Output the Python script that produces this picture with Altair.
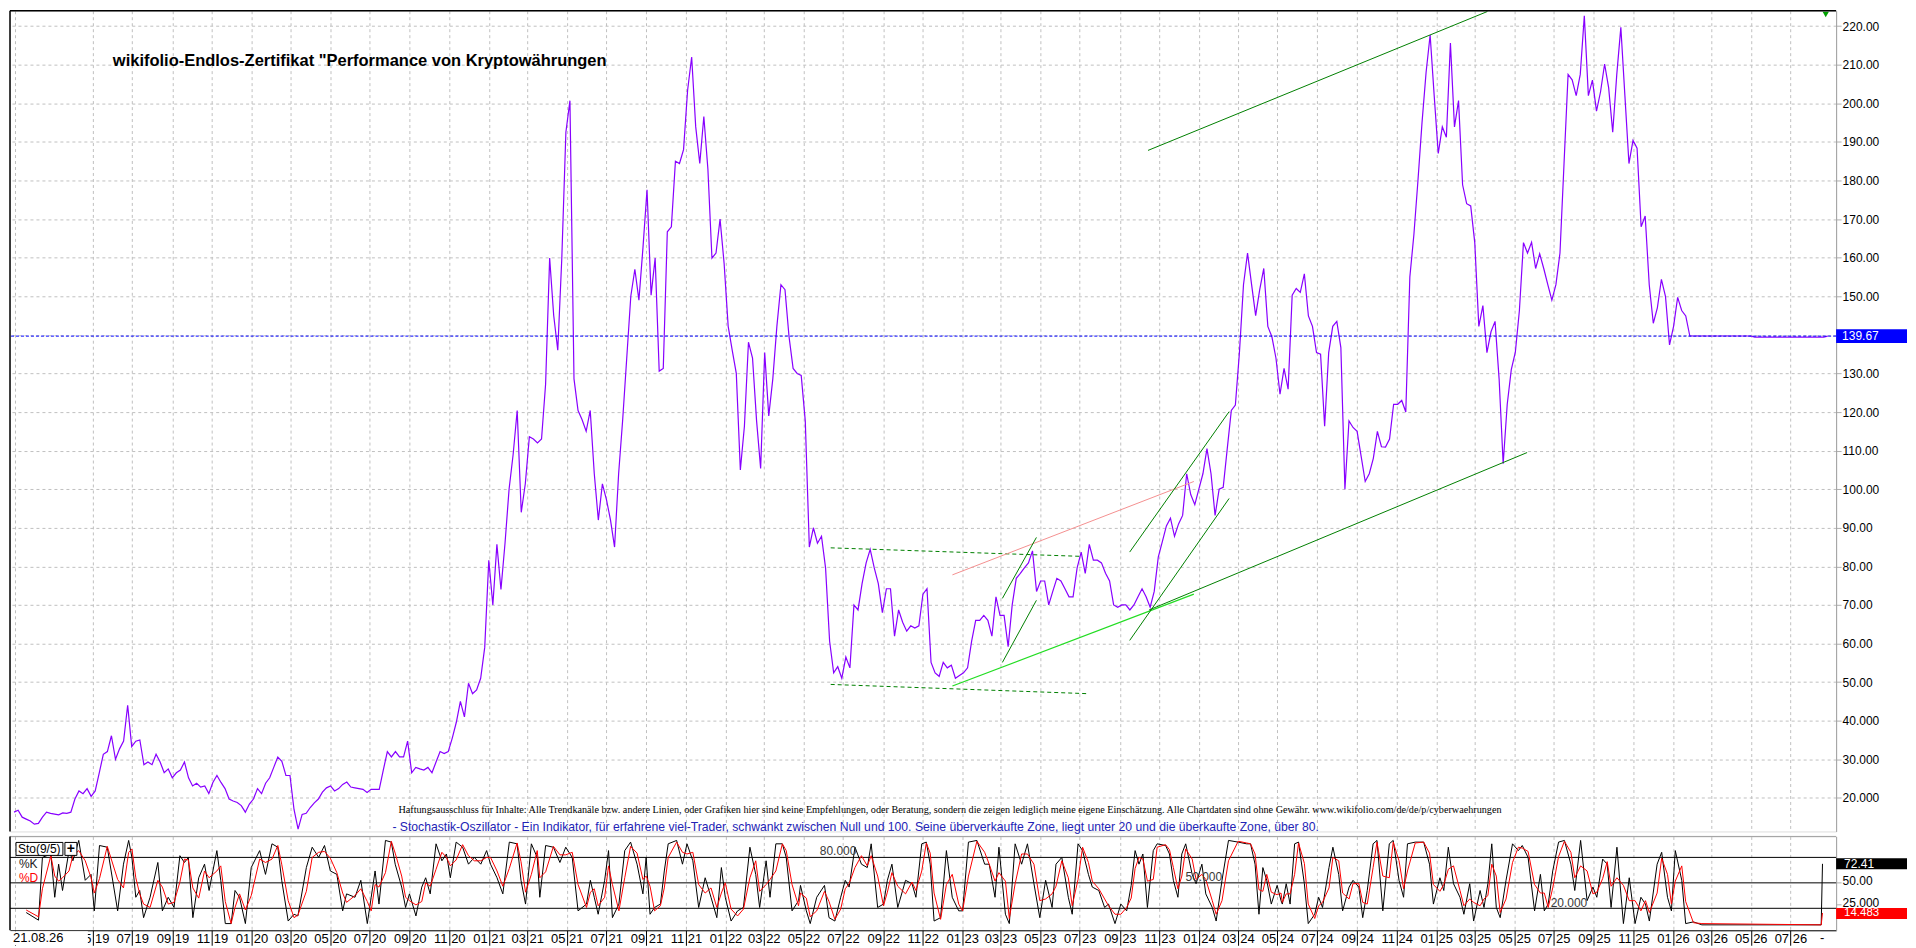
import altair as alt
import numpy as np
import pandas as pd

# ------------------------------------------------------------------ data
AXIS_START = "2018-12-24T12:00:00"   # left edge of the time axis
AXIS_END = "2026-09-09T12:00:00"     # right edge of the time axis
PRICE_FIRST_DAY = 6.257               # first close, days after AXIS_START
PRICE_STEP_DAYS = 6.257               # spacing of the sampled closes

PRICE_SEG_A = [
    16.3, 16.8, 15.0, 14.5, 14.0, 13.2, 13.4, 15.0, 16.3, 16.0,
    15.8, 15.6, 16.1, 16.0, 16.3, 19.7, 21.8, 21.1, 22.4, 20.4,
    21.8, 26.5, 31.3, 32.0, 36.1, 30.0, 32.7, 34.7, 44.0, 33.3,
    34.7, 35.0, 28.6, 29.3, 28.6, 31.3, 29.3, 26.5, 27.5, 25.2,
    26.5, 27.2, 29.3, 25.2, 23.1, 23.8, 22.8, 23.1, 21.1, 24.0,
    25.8, 24.0, 22.4, 19.7, 19.2, 18.8, 18.0, 16.3, 18.4, 19.7,
    22.4, 21.1, 23.8, 25.2, 27.9, 30.6, 29.5, 25.8, 25.8, 17.0,
    11.9, 15.7, 16.0, 17.5, 18.7, 19.7, 21.5, 22.6, 23.1, 21.8,
    22.4, 23.5, 24.1, 22.8, 22.6, 22.4, 22.2, 21.4, 22.2, 22.2,
    22.2, 27.2, 32.0, 30.6, 32.0, 30.6, 30.6, 34.7, 26.5, 27.9,
    27.5, 27.2, 27.9, 26.5, 29.3, 32.0, 31.5, 32.0, 35.5, 39.6,
    45.0, 41.0, 49.7, 47.0, 48.0, 51.0, 59.0, 81.6, 70.0, 85.7,
    74.0, 86.0, 100.0, 109.0, 120.4, 94.0, 101.4, 113.6, 113.0, 112.0,
    113.0, 127.2, 159.9, 145.0, 136.0, 160.0, 192.5, 200.7, 128.6, 120.4,
    118.0, 115.0, 120.4, 104.0, 92.0, 101.4, 97.3, 92.0, 85.0, 104.0,
    118.0, 134.0, 150.0, 157.0, 149.0, 162.6,
]
PRICE_SEG_B = [
    177.6, 150.3, 159.9, 130.6, 131.3, 166.7, 168.0, 185.0, 184.4, 188.0,
    203.4, 212.0, 193.9, 184.4, 196.6, 183.0, 159.9, 161.2, 170.0, 158.5,
    142.2, 136.0, 130.0, 105.0, 116.3, 138.1, 134.0, 117.7, 105.4, 135.4,
    119.0, 128.6, 142.2, 153.0, 151.7, 139.5, 131.3, 130.0, 129.5, 117.7,
    85.0, 90.0, 86.0, 87.8, 79.6, 60.6, 52.4, 54.0, 51.0, 56.5,
    53.7, 70.0, 68.7, 75.5, 80.9, 84.4, 79.6, 75.5, 68.0, 74.2,
    74.2, 61.9, 68.7, 65.5, 63.2, 64.6, 64.0, 64.6, 72.8, 74.2,
    55.1, 52.4, 51.5, 55.1, 53.7, 54.4, 51.0, 51.7, 52.4, 53.7,
    60.6, 66.0, 66.0, 67.3, 66.0, 61.9, 72.1, 67.3, 67.3, 59.2,
    70.0, 76.9, 78.2, 79.6, 80.9, 84.0, 73.5, 76.2, 76.2, 70.0,
    73.5, 76.9, 76.2, 74.2, 72.1, 72.1, 79.6, 83.7, 78.2, 85.7,
    81.6, 81.6, 80.9, 78.2, 76.2, 70.0, 69.4, 70.0, 70.0, 68.7,
    70.0, 72.1, 74.2, 72.1, 69.4, 73.5, 82.4, 86.4, 90.5, 92.5,
    87.8, 91.0, 93.2, 104.0, 98.6, 96.0, 100.0, 104.0, 110.5, 104.0,
    93.2, 100.0, 100.5, 110.5, 120.4, 121.8, 135.4, 153.0, 161.2, 153.0,
    145.0, 151.7, 157.2, 142.2, 139.5, 134.0, 124.6,
]
PRICE_SEG_C = [
    131.3, 125.9, 150.3, 152.0, 151.0, 155.8, 144.9, 142.2, 135.4, 135.0,
    116.3, 135.4, 142.2, 143.5, 136.7, 100.0, 117.7, 116.0, 115.0, 108.5,
    102.0, 104.0, 108.0, 115.0, 111.0, 110.9, 113.0, 122.0, 122.0, 123.0,
    120.0, 155.0, 166.0, 180.0, 195.0, 208.0, 217.7, 202.0, 187.0, 193.9,
    191.2, 215.6, 193.9, 200.7, 178.9, 174.0, 173.4, 163.9, 142.2, 147.6,
    135.4, 140.8, 143.5, 128.6, 106.6, 122.0, 131.0, 135.5, 146.3, 163.9,
    161.2, 164.0, 157.2, 161.0, 157.2, 153.0, 149.0, 153.0, 161.2, 184.4,
    207.5, 206.1, 202.0, 207.5, 222.7, 202.0, 206.0, 198.0, 203.0, 210.2,
    204.0, 192.5, 207.5, 219.7, 202.0, 184.4, 190.4, 188.4, 168.0, 170.8,
    153.0, 143.0, 147.0, 154.4, 150.0, 137.4, 142.2, 149.7, 146.3, 144.9,
    139.7,
]
PRICE_TAIL = [
    139.7, 139.7, 139.7, 139.7, 139.7, 139.7, 139.7, 139.7, 139.7, 139.7,
    139.7, 139.7, 139.7, 139.7, 139.7,
    139.4, 139.4, 139.4, 139.4, 139.4, 139.4, 139.4, 139.4, 139.4, 139.4,
    139.4, 139.4, 139.4, 139.4, 139.4, 139.4, 139.4, 139.4,
    139.67,
]
LAST_PRICE = 139.67
PRICE_TICKS = [20, 30, 40, 50, 60, 70, 80, 90, 100, 110, 120, 130, 140,
               150, 160, 170, 180, 190, 200, 210, 220]

# Stochastic (9/5): (day after AXIS_START, %K, %D)
STO_SEG_A = [
    (25, 15, 18), (44, 6, 10), (50, 80, 43), (63, 84, 82), (69, 33, 58), (75, 72, 52),
    (81, 41, 56), (91, 88, 64), (97, 76, 82), (106, 100, 88), (116, 53, 76), (125, 60, 56),
    (130, 17, 38), (138, 94, 55), (150, 92, 93), (166, 17, 54), (175, 72, 44), (183, 100, 86),
    (188, 80, 90), (194, 33, 56), (200, 41, 37), (206, 9, 25), (216, 33, 21), (228, 74, 53),
    (235, 17, 45), (244, 33, 25), (253, 21, 27), (262, 82, 51), (269, 74, 78), (275, 80, 77),
    (282, 9, 44), (291, 56, 32), (300, 72, 64), (307, 41, 56), (319, 88, 64), (325, 53, 70),
    (332, 2, 28), (341, 2, 2), (347, 41, 21), (354, 33, 37), (363, 2, 18), (372, 68, 35),
    (385, 88, 78), (394, 60, 74), (404, 96, 78), (413, 92, 94), (419, 53, 72), (429, 5, 29),
    (438, 13, 9), (444, 11, 12), (457, 68, 40), (466, 92, 80), (476, 80, 86), (485, 94, 87),
    (494, 64, 79), (504, 60, 62), (513, 17, 38), (519, 37, 27), (532, 33, 35), (541, 53, 43),
    (551, 2, 28), (557, 33, 17), (563, 64, 48), (569, 25, 45), (579, 100, 62), (588, 98, 99),
    (594, 72, 85), (604, 45, 58), (610, 21, 33), (616, 37, 29), (626, 11, 24), (635, 45, 28),
    (641, 56, 50), (648, 37, 46), (657, 96, 66), (666, 76, 86), (673, 84, 80), (679, 56, 70),
    (688, 98, 77), (698, 92, 95), (707, 72, 82), (716, 80, 76), (726, 72, 76), (735, 88, 80),
    (741, 72, 80), (751, 56, 64), (760, 37, 46), (770, 98, 67), (782, 96, 97), (788, 53, 75),
    (795, 25, 39), (804, 96, 60), (813, 80, 88), (817, 33, 56), (826, 94, 63), (838, 92, 93),
    (848, 74, 83), (857, 92, 83), (867, 80, 86), (876, 17, 48), (889, 25, 21), (895, 53, 39),
    (901, 33, 43), (907, 13, 23), (917, 53, 33), (923, 88, 70), (929, 9, 48), (939, 25, 17),
    (948, 88, 56), (957, 98, 93), (967, 72, 85), (976, 37, 54),
]
STO_SEG_B = [
    (981, 80, 58), (987, 13, 46), (994, 21, 17), (1003, 25, 23), (1009, 64, 44), (1015, 96, 80),
    (1028, 100, 98), (1037, 72, 86), (1044, 96, 84), (1053, 76, 86), (1062, 21, 48), (1072, 56, 38),
    (1081, 33, 44), (1090, 9, 21), (1097, 68, 38), (1103, 33, 50), (1112, 5, 19), (1122, 17, 11),
    (1131, 21, 19), (1141, 92, 56), (1150, 60, 76), (1156, 21, 40), (1166, 76, 48), (1172, 33, 54),
    (1181, 96, 64), (1191, 96, 96), (1197, 80, 88), (1206, 17, 48), (1216, 29, 23), (1219, 47, 38),
    (1228, 17, 32), (1234, 2, 10), (1244, 33, 17), (1256, 47, 40), (1263, 9, 28), (1272, 5, 7),
    (1281, 33, 19), (1288, 53, 43), (1294, 45, 49), (1303, 92, 68), (1313, 72, 82), (1322, 68, 70),
    (1328, 96, 82), (1338, 21, 58), (1347, 25, 23), (1353, 53, 39), (1360, 72, 62), (1369, 21, 46),
    (1381, 53, 37), (1391, 49, 51), (1397, 33, 41), (1406, 96, 64), (1413, 98, 97), (1419, 72, 85),
    (1425, 5, 38), (1435, 9, 7), (1444, 88, 48), (1453, 33, 60), (1463, 17, 25), (1469, 17, 17),
    (1478, 98, 58), (1491, 100, 99), (1503, 72, 86), (1510, 72, 72), (1519, 33, 52), (1525, 92, 62),
    (1535, 13, 52), (1541, 2, 8), (1550, 96, 49), (1560, 72, 84), (1569, 96, 84), (1579, 49, 72),
    (1588, 9, 29), (1597, 53, 31), (1607, 21, 37), (1613, 72, 46), (1622, 80, 76), (1632, 33, 56),
    (1638, 13, 23), (1647, 96, 54), (1654, 88, 92), (1663, 60, 74), (1669, 45, 52), (1679, 41, 43),
    (1688, 21, 31), (1694, 25, 23), (1704, 2, 13), (1713, 25, 13), (1722, 17, 21), (1729, 47, 32),
    (1735, 88, 67), (1741, 72, 80), (1747, 84, 78), (1754, 21, 52), (1763, 88, 54), (1769, 96, 92),
    (1782, 94, 95), (1788, 84, 89), (1794, 53, 68), (1801, 33, 43), (1807, 84, 58), (1813, 96, 90),
    (1823, 60, 78), (1829, 49, 54), (1838, 72, 60), (1844, 37, 54), (1854, 21, 29), (1860, 5, 13),
    (1869, 53, 29), (1879, 100, 76), (1894, 98, 99), (1907, 96, 97), (1913, 96, 96), (1920, 72, 84),
    (1926, 13, 42), (1932, 68, 40), (1938, 53, 60), (1945, 25, 39), (1954, 47, 36), (1960, 29, 38),
]
STO_SEG_C = [
    (1962, 25, 27), (1968, 49, 37), (1974, 25, 37), (1981, 96, 60), (1987, 98, 97), (1996, 49, 73),
    (2002, 2, 25), (2012, 13, 8), (2018, 33, 23), (2024, 21, 27), (2034, 68, 44), (2040, 92, 80),
    (2049, 60, 76), (2055, 17, 38), (2065, 45, 31), (2071, 53, 49), (2080, 45, 49), (2086, 9, 27),
    (2093, 41, 25), (2102, 96, 68), (2108, 100, 98), (2117, 17, 58), (2127, 96, 56), (2133, 100, 98),
    (2142, 53, 76), (2149, 33, 43), (2155, 96, 64), (2167, 98, 97), (2180, 98, 98), (2189, 72, 85),
    (2195, 25, 48), (2205, 56, 40), (2211, 41, 48), (2218, 92, 66), (2226, 49, 70), (2236, 33, 41),
    (2242, 13, 23), (2251, 49, 31), (2257, 5, 27), (2267, 41, 23), (2273, 21, 31), (2279, 49, 35),
    (2285, 96, 72), (2292, 21, 58), (2298, 9, 15), (2307, 53, 31), (2317, 96, 74), (2326, 88, 92),
    (2332, 94, 91), (2341, 80, 87), (2351, 17, 48), (2360, 60, 38), (2366, 17, 38), (2372, 25, 21),
    (2379, 64, 44), (2388, 98, 81), (2397, 100, 99), (2407, 72, 86), (2413, 41, 56), (2422, 100, 70),
    (2432, 29, 64), (2441, 45, 37), (2447, 33, 39), (2456, 78, 55), (2463, 72, 75), (2469, 21, 46),
    (2478, 92, 56), (2488, 2, 47), (2497, 56, 29), (2506, 2, 29), (2515, 33, 17), (2522, 25, 29),
    (2528, 5, 15), (2540, 72, 38), (2547, 86, 79), (2556, 33, 60), (2562, 17, 25), (2568, 88, 52),
    (2578, 53, 70), (2584, 2, 28), (2596, 4, 3), (2609, 0.5, 2), (2793, 0.5, 0.5), (2795, 72.41, 14.483),
]
STO_LEVELS = [20, 50, 80]
STO_LEVEL_TEXT = [("80.000", 1277, 88.0), ("50.000", 1841, 56.5), ("20.000", 2404, 26.0)]
STO_LAST_K = 72.41
STO_LAST_D = 14.483
STO_TICKS = [25, 50]

MONTH_TICKS = [
    "2019-01", "2019-05", "2019-07", "2019-09", "2019-11",
    "2020-01", "2020-03", "2020-05", "2020-07", "2020-09", "2020-11",
    "2021-01", "2021-03", "2021-05", "2021-07", "2021-09", "2021-11",
    "2022-01", "2022-03", "2022-05", "2022-07", "2022-09", "2022-11",
    "2023-01", "2023-03", "2023-05", "2023-07", "2023-09", "2023-11",
    "2024-01", "2024-03", "2024-05", "2024-07", "2024-09", "2024-11",
    "2025-01", "2025-03", "2025-05", "2025-07", "2025-09", "2025-11",
    "2026-01", "2026-03", "2026-05", "2026-07",
]
FIRST_LABELLED_MONTH = "2019-05"
DATE_STAMP = "21.08.26"

# trend lines: (day1, price1, day2, price2)
TREND_DASHED = [(1265.6, 84.8, 1650.4, 82.6), (1265.6, 49.4, 1662.9, 47.0)]
TREND_DARK = [
    (1530.3, 71.7, 1582.8, 87.5), (1530.3, 55.1, 1582.8, 71.2),
    (1726.6, 83.7, 1880.0, 120.1), (1726.6, 60.8, 1880.0, 97.6),
    (1756.6, 68.7, 2339.5, 109.5), (1754.9, 187.8, 2278.2, 223.8),
]
TREND_LIME = [(1453.3, 49.0, 1825.6, 72.8)]
TREND_PINK = [(1453.3, 77.8, 1825.6, 102.0)]
MARKER = [(2800.0, 223.0)]

TITLE = "wikifolio-Endlos-Zertifikat \"Performance von Kryptowährungen"
DISCLAIMER = ("Haftungsausschluss für Inhalte: Alle Trendkanäle bzw. andere Linien, oder Grafiken hier "
              "sind keine Empfehlungen, oder Beratung, sondern die zeigen lediglich meine eigene "
              "Einschätzung. Alle Chartdaten sind ohne Gewähr. www.wikifolio.com/de/de/p/cyberwaehrungen")
STO_NOTE = ("- Stochastik-Oszillator - Ein Indikator, für erfahrene viel-Trader, schwankt zwischen "
            "Null und 100. Seine überverkaufte Zone, liegt unter 20 und die überkaufte Zone, über 80.")

# ------------------------------------------------------------------ helpers
BASE_MS = pd.Timestamp(AXIS_START, tz="UTC").value // 10**6
END_MS = pd.Timestamp(AXIS_END, tz="UTC").value // 10**6
DAY_MS = 86400000.0


def to_ms(days):
    return BASE_MS + np.asarray(days, dtype=float) * DAY_MS


month_ms = [int(pd.Timestamp(m + "-01", tz="UTC").value // 10**6) for m in MONTH_TICKS]
first_label_ms = int(pd.Timestamp(FIRST_LABELLED_MONTH + "-01", tz="UTC").value // 10**6) - 1

prices = PRICE_SEG_A + PRICE_SEG_B + PRICE_SEG_C + PRICE_TAIL
price_days = PRICE_FIRST_DAY + PRICE_STEP_DAYS * np.arange(len(prices))
price_df = pd.DataFrame({"t": to_ms(price_days), "p": prices})

sto = pd.DataFrame(STO_SEG_A + STO_SEG_B + STO_SEG_C, columns=["day", "k", "d"])
sto["t"] = to_ms(sto["day"])


def trend_df(rows):
    df = pd.DataFrame(rows, columns=["d1", "p1", "d2", "p2"])
    df["t1"] = to_ms(df["d1"])
    df["t2"] = to_ms(df["d2"])
    return df


# ------------------------------------------------------------------ layout
W = 1829
H1 = 822
H2 = 94
BOX = 71
FONT = "Liberation Sans"
GRID = "#c0c0c0"
one = pd.DataFrame({"a": [0]})

xs = alt.Scale(type="utc", domain=[int(BASE_MS), int(END_MS)])
ys_price = alt.Scale(domain=[11.3, 224.0], nice=False, zero=False)
ys_sto = alt.Scale(domain=[-5.9, 104.7], nice=False, zero=False)
num_fmt = "datum.value >= 50 ? format(datum.value, '.2f') : format(datum.value, '.3f')"

x_grid_axis = alt.Axis(values=month_ms, grid=True, gridColor=GRID, gridDash=[3, 3],
                       labels=False, ticks=False, domain=False, title=None)
price_axis = alt.Axis(orient="right", values=PRICE_TICKS, labelExpr=num_fmt, grid=True,
                      gridColor=GRID, gridDash=[3, 3], tickSize=5, tickColor="#b0b0b0",
                      domainColor="#a0a0a0", labelFont=FONT, labelFontSize=12,
                      labelColor="#000000", labelPadding=1, title=None)

price_line = alt.Chart(price_df).mark_line(color="#8800ff", strokeWidth=1.2).encode(
    x=alt.X("t:T", scale=xs, axis=x_grid_axis, title=None),
    y=alt.Y("p:Q", scale=ys_price, axis=price_axis, title=None),
)
last_rule = alt.Chart(pd.DataFrame({"p": [LAST_PRICE]})).mark_rule(
    color="#0000ff", strokeDash=[3, 2], strokeWidth=1
).encode(y=alt.Y("p:Q", scale=ys_price, title=None))


def trend_layer(rows, color, dash=None, width=1.0):
    kw = dict(color=color, strokeWidth=width)
    if dash:
        kw["strokeDash"] = dash
    return alt.Chart(trend_df(rows)).mark_rule(**kw).encode(
        x=alt.X("t1:T", scale=xs, title=None), x2="t2:T",
        y=alt.Y("p1:Q", scale=ys_price, title=None), y2="p2:Q",
    )


marker_df = pd.DataFrame(MARKER, columns=["d", "p"])
marker_df["t"] = to_ms(marker_df["d"])
marker = alt.Chart(marker_df).mark_point(shape="triangle-down", filled=True, color="#00a000",
                                          size=40, opacity=1).encode(
    x=alt.X("t:T", scale=xs, title=None), y=alt.Y("p:Q", scale=ys_price, title=None))

price_box = alt.Chart(one).mark_rect(color="#0000ff").encode(
    x=alt.value(W), x2=alt.value(W + BOX),
    y=alt.Y(datum=LAST_PRICE + 1.8, scale=ys_price), y2=alt.Y2(datum=LAST_PRICE - 1.8))
price_box_text = alt.Chart(pd.DataFrame({"s": [f"{LAST_PRICE:.2f}"]})).mark_text(
    align="left", baseline="middle", color="white", font=FONT, fontSize=12
).encode(x=alt.value(W + 6), y=alt.Y(datum=LAST_PRICE, scale=ys_price), text="s:N")

title = alt.Chart(pd.DataFrame({"s": [TITLE]})).mark_text(
    align="left", baseline="middle", font=FONT, fontSize=16.5, fontWeight="bold", color="#000000"
).encode(x=alt.value(103), y=alt.value(50), text="s:N")
disclaimer = alt.Chart(pd.DataFrame({"s": [DISCLAIMER]})).mark_text(
    align="left", baseline="middle", font="Liberation Serif", fontSize=10.2, color="#000000"
).encode(x=alt.value(389), y=alt.value(801), text="s:N")
sto_note = alt.Chart(pd.DataFrame({"s": [STO_NOTE]})).mark_text(
    align="left", baseline="middle", font=FONT, fontSize=12.2, color="#2323b5"
).encode(x=alt.value(383), y=alt.value(818), text="s:N")

top_line = alt.Chart(one).mark_rule(color="#000000", strokeWidth=1.5).encode(y=alt.value(0))
left_line = alt.Chart(one).mark_rule(color="#000000", strokeWidth=1.5).encode(x=alt.value(0))

top = alt.layer(
    price_line, last_rule,
    trend_layer(TREND_DASHED, "#008000", dash=[4, 3]),
    trend_layer(TREND_PINK, "#f49090"),
    trend_layer(TREND_LIME, "#22dd22", width=1.2),
    trend_layer(TREND_DARK, "#008000"),
    marker, price_box, price_box_text, title, disclaimer, sto_note, top_line, left_line,
).properties(width=W, height=H1)

# ------------------------------------------------------------------ stochastic panel
bottom_axis = alt.Axis(
    values=month_ms,
    labelExpr=(f"datum.value < {first_label_ms} ? '' : "
               "utcFormat(datum.value, '%m') + ' ' + utcFormat(datum.value, '%y')"),
    grid=True, gridColor=GRID, gridDash=[3, 3], tickSize=15, tickColor="#000000",
    domainColor="#000000", labelFont=FONT, labelFontSize=13, labelColor="#000000",
    labelPadding=-13, labelBaseline="top", labelOverlap=False, labelFlush=False, title=None)
sto_axis = alt.Axis(orient="right", values=STO_TICKS, labelExpr=num_fmt, grid=False,
                    tickSize=5, tickColor="#b0b0b0", domainColor="#a0a0a0", labelFont=FONT,
                    labelFontSize=12, labelColor="#000000", labelPadding=1, labelOffset=-2,
                    title=None)

k_line = alt.Chart(sto).mark_line(color="#000000", strokeWidth=1).encode(
    x=alt.X("t:T", scale=xs, axis=bottom_axis, title=None),
    y=alt.Y("k:Q", scale=ys_sto, axis=sto_axis, title=None))
d_line = alt.Chart(sto).mark_line(color="#ff0000", strokeWidth=1).encode(
    x=alt.X("t:T", scale=xs, title=None), y=alt.Y("d:Q", scale=ys_sto, title=None))
levels = alt.Chart(pd.DataFrame({"v": STO_LEVELS})).mark_rule(color="#000000", strokeWidth=1).encode(
    y=alt.Y("v:Q", scale=ys_sto, title=None))

lvl_df = pd.DataFrame(STO_LEVEL_TEXT, columns=["s", "d", "v"])
lvl_df["t"] = to_ms(lvl_df["d"])
level_text = alt.Chart(lvl_df).mark_text(
    align="center", baseline="middle", font=FONT, fontSize=12, color="#3a3a3a"
).encode(x=alt.X("t:T", scale=xs, title=None), y=alt.Y("v:Q", scale=ys_sto, title=None), text="s:N")

k_box = alt.Chart(one).mark_rect(color="#000000").encode(
    x=alt.value(W), x2=alt.value(W + BOX),
    y=alt.Y(datum=STO_LAST_K + 6.5, scale=ys_sto), y2=alt.Y2(datum=STO_LAST_K - 6.5))
k_text = alt.Chart(pd.DataFrame({"s": [f"{STO_LAST_K:.2f}"]})).mark_text(
    align="left", baseline="middle", color="white", font=FONT, fontSize=12
).encode(x=alt.value(W + 8), y=alt.Y(datum=STO_LAST_K, scale=ys_sto), text="s:N")
d_box = alt.Chart(one).mark_rect(color="#ff0000").encode(
    x=alt.value(W), x2=alt.value(W + BOX),
    y=alt.Y(datum=STO_LAST_D + 5.8, scale=ys_sto), y2=alt.Y2(datum=STO_LAST_D - 7))
d_text = alt.Chart(pd.DataFrame({"s": [f"{STO_LAST_D:.3f}"]})).mark_text(
    align="left", baseline="middle", color="white", font=FONT, fontSize=11.5
).encode(x=alt.value(W + 8), y=alt.Y(datum=STO_LAST_D - 0.6, scale=ys_sto), text="s:N")

sto_box = alt.Chart(one).mark_rect(fill="#ffffff", stroke="#000000", strokeWidth=1).encode(
    x=alt.value(6), x2=alt.value(53), y=alt.value(6), y2=alt.value(19))
plus_box = alt.Chart(one).mark_rect(fill="#ffffff", stroke="#000000", strokeWidth=1).encode(
    x=alt.value(55), x2=alt.value(67), y=alt.value(6), y2=alt.value(19))
sto_name = alt.Chart(pd.DataFrame({"s": ["Sto(9/5)"]})).mark_text(
    align="left", baseline="middle", font=FONT, fontSize=12, color="#000000"
).encode(x=alt.value(8), y=alt.value(13), text="s:N")
plus_text = alt.Chart(pd.DataFrame({"s": ["+"]})).mark_text(
    align="center", baseline="middle", font=FONT, fontSize=14, fontWeight="bold", color="#000000"
).encode(x=alt.value(61), y=alt.value(12.5), text="s:N")
k_label = alt.Chart(pd.DataFrame({"s": ["%K"]})).mark_text(
    align="left", baseline="middle", font=FONT, fontSize=12, color="#202020"
).encode(x=alt.value(9), y=alt.value(28), text="s:N")
d_label = alt.Chart(pd.DataFrame({"s": ["%D"]})).mark_text(
    align="left", baseline="middle", font=FONT, fontSize=12, color="#ff0000"
).encode(x=alt.value(9), y=alt.value(42), text="s:N")

stamp_bg = alt.Chart(one).mark_rect(color="#ffffff").encode(
    x=alt.value(0), x2=alt.value(78), y=alt.value(H2 + 1), y2=alt.value(H2 + 15))
stamp = alt.Chart(pd.DataFrame({"s": [DATE_STAMP]})).mark_text(
    align="left", baseline="middle", font=FONT, fontSize=13, color="#000000"
).encode(x=alt.value(3), y=alt.value(H2 + 8), text="s:N")
end_dash = alt.Chart(pd.DataFrame({"s": ["-"]})).mark_text(
    align="center", baseline="middle", font=FONT, fontSize=13, color="#000000"
).encode(x=alt.value(1815), y=alt.value(H2 + 8), text="s:N")

sep_line = alt.Chart(one).mark_rule(color="#a0a0a0", strokeWidth=1).encode(y=alt.value(0))
left_line2 = alt.Chart(one).mark_rule(color="#000000", strokeWidth=1.5).encode(x=alt.value(0))

bottom = alt.layer(
    k_line, levels, d_line, level_text, k_box, k_text, d_box, d_text,
    sto_box, plus_box, sto_name, plus_text, k_label, d_label,
    stamp_bg, stamp, end_dash, sep_line, left_line2,
).properties(width=W, height=H2)

chart = alt.vconcat(top, bottom, spacing=0, padding=0).resolve_scale(
    x="independent", y="independent"
).configure_view(stroke=None).configure(background="#ffffff")

chart.save("out.html", embed_options={"renderer": "svg", "actions": False})
